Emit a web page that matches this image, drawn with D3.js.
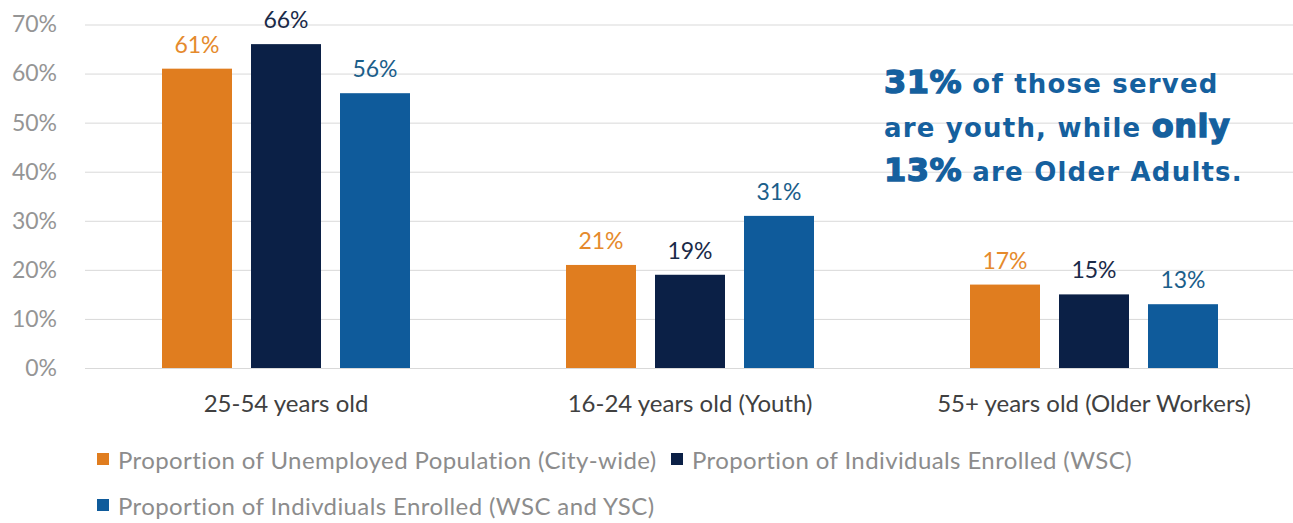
<!DOCTYPE html>
<html>
<head>
<meta charset="utf-8">
<script src="https://cdn.jsdelivr.net/npm/d3@7"></script>
<style>
  html, body { margin: 0; padding: 0; background: #ffffff; }
  svg { display: block; }
</style>
</head>
<body>
<svg id="chart" width="1293" height="523"></svg>
<script>
// Age groups along the x axis
const categories = ["25-54 years old", "16-24 years old (Youth)", "55+ years old (Older Workers)"];
// Series names (legend)
const seriesNames = [
  "Proportion of Unemployed Population (City-wide)",
  "Proportion of Individuals Enrolled (WSC)",
  "Proportion of Indivdiuals Enrolled (WSC and YSC)"
];
// Percent values per series, in category order
const cityWide = [61, 21, 17];
const enrolledWSC = [66, 19, 15];
const enrolledWSCYSC = [56, 31, 13];
const yTicks = [0, 10, 20, 30, 40, 50, 60, 70];

const seriesValues = [cityWide, enrolledWSC, enrolledWSCYSC];
const barColors = ["#E07D1F", "#0B2046", "#0F5B9B"];
const labelColors = ["#E58A2C", "#1A2A48", "#1B5E8A"];

const svg = d3.select("#chart");
const font = "Lato, 'Open Sans', sans-serif";

const x0 = d3.scaleBand().domain(categories).range([84, 1296]);
const x1 = d3.scaleBand().domain(d3.range(3)).range([-124, 124]).paddingInner(19 / 89);
const y = d3.scaleLinear().domain([0, 70]).range([368, 24.5]);

// Horizontal gridlines with percent labels
const yAxis = d3.axisLeft(y).tickValues(yTicks).tickFormat(d => d + "%").tickSize(-1300).tickPadding(28);
const ga = svg.append("g").attr("transform", "translate(85,0)").call(yAxis);
ga.select(".domain").remove();
ga.selectAll(".tick line").attr("stroke", "#d9d9d9").attr("stroke-width", 1);
ga.selectAll(".tick text")
  .attr("fill", "#959595")
  .style("font-family", font)
  .style("font-size", "23px");

// Bars with value labels
const groups = svg.append("g").selectAll("g")
  .data(categories)
  .join("g")
  .attr("transform", d => `translate(${x0(d) + x0.bandwidth() / 2},0)`);

groups.each(function(cat, ci) {
  const g = d3.select(this);
  seriesValues.forEach((vals, si) => {
    const v = vals[ci];
    g.append("rect")
      .attr("x", x1(si))
      .attr("width", x1.bandwidth())
      .attr("y", y(v))
      .attr("height", y(0) - y(v))
      .attr("fill", barColors[si]);
    g.append("text")
      .attr("x", x1(si) + x1.bandwidth() / 2)
      .attr("y", y(v) - 16)
      .attr("text-anchor", "middle")
      .attr("fill", labelColors[si])
      .style("font-family", font)
      .style("font-size", "23px")
      .text(v + "%");
  });
});

// Category labels
const xAxis = d3.axisBottom(x0).tickSize(0).tickPadding(0);
const gx = svg.append("g").attr("transform", `translate(0,${y(0)})`).call(xAxis);
gx.select(".domain").remove();
gx.selectAll(".tick text")
  .attr("dy", null)
  .attr("y", 44)
  .attr("fill", "#404040")
  .style("font-family", font)
  .style("font-size", "24px");

// Legend
const legendPos = [[97, 459], [671, 459], [97, 505]];
const legend = svg.append("g");
seriesNames.forEach((name, i) => {
  const [lx, ly] = legendPos[i];
  legend.append("rect")
    .attr("x", lx).attr("y", ly - 6)
    .attr("width", 12).attr("height", 12)
    .attr("fill", barColors[i]);
  legend.append("text")
    .attr("x", lx + 21).attr("y", ly)
    .attr("dominant-baseline", "central")
    .attr("fill", "#8c8c8c")
    .style("font-family", font)
    .style("font-size", "24px")
    .style("letter-spacing", "0.4px")
    .text(name);
});

// Callout
const callout = svg.append("text")
  .attr("fill", "#15609E")
  .style("font-family", "'DejaVu Sans', sans-serif")
  .style("font-weight", 700);
const lines = [
  [["31%", true], [" of those served", false]],
  [["are youth, while ", false], ["only", true]],
  [["13%", true], [" are Older Adults.", false]]
];
const lineY = [93, 137, 181];
lines.forEach((parts, li) => {
  parts.forEach(([txt, big], pi) => {
    const ts = callout.append("tspan")
      .style("font-size", big ? "32px" : "26px")
      .style("letter-spacing", big ? "0.5px" : "1.2px")
      .attr("stroke", big ? "#15609E" : null)
      .attr("stroke-width", big ? 1.4 : null)
      .text(txt);
    if (pi === 0) ts.attr("x", 884).attr("y", lineY[li]);
  });
});
</script>
</body>
</html>
